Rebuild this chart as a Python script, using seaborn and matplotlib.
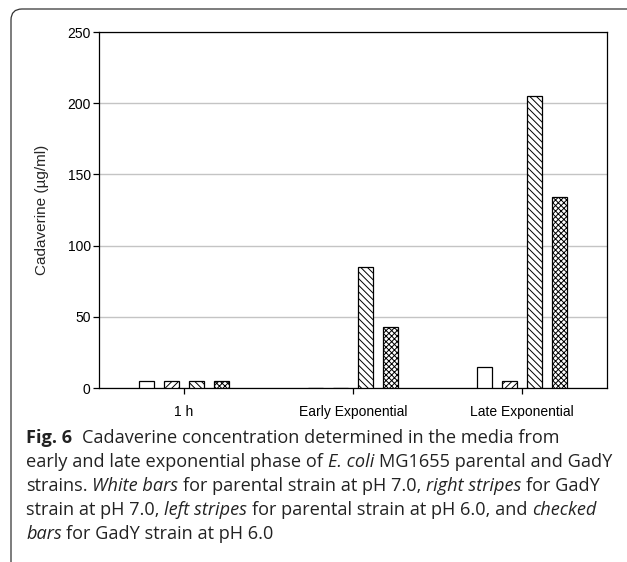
import matplotlib
matplotlib.use("Agg")
import matplotlib.pyplot as plt
import matplotlib.patches as mpatches
from matplotlib.transforms import IdentityTransform
import seaborn as sns
import pandas as pd

# ---------------- data ----------------
categories = ["1 h", "Early Exponential", "Late Exponential"]
series = ["Parental pH 7.0", "GadY pH 7.0", "Parental pH 6.0", "GadY pH 6.0"]
parental_ph7 = [5, 0, 15]
gady_ph7 = [5, 0, 5]
parental_ph6 = [5, 85, 205]
gady_ph6 = [5, 43, 134]
hatches = ["", "/////", "\\\\\\\\\\", "xxxxxx"]
yticks = [0, 50, 100, 150, 200, 250]
ylabel = "Cadaverine (µg/ml)"

caption_lines = [
    [("Fig. 6", "bold", "normal"), ("  Cadaverine concentration determined in the media from", "normal", "normal")],
    [("early and late exponential phase of ", "normal", "normal"), ("E. coli", "normal", "italic"),
     (" MG1655 parental and GadY", "normal", "normal")],
    [("strains. ", "normal", "normal"), ("White bars", "normal", "italic"),
     (" for parental strain at pH 7.0, ", "normal", "normal"), ("right stripes", "normal", "italic"),
     (" for GadY", "normal", "normal")],
    [("strain at pH 7.0, ", "normal", "normal"), ("left stripes", "normal", "italic"),
     (" for parental strain at pH 6.0, and ", "normal", "normal"), ("checked", "normal", "italic")],
    [("bars", "normal", "italic"), (" for GadY strain at pH 6.0", "normal", "normal")],
]

values = [parental_ph7, gady_ph7, parental_ph6, gady_ph6]
df = pd.DataFrame(
    [(c, s, v) for s, vals in zip(series, values) for c, v in zip(categories, vals)],
    columns=["phase", "strain", "value"],
)

# ---------------- figure ----------------
W, H = 627, 562
sns.set_style("white")
plt.rcParams["font.family"] = ["Liberation Sans", "DejaVu Sans"]
plt.rcParams["hatch.linewidth"] = 0.7
plt.rcParams["hatch.color"] = "black"

fig = plt.figure(figsize=(W / 100, H / 100), dpi=100)
ax = fig.add_axes([99 / W, 1 - 388 / H, (607 - 99) / W, (388 - 32) / H])

sns.barplot(
    data=df, x="phase", y="value", hue="strain",
    order=categories, hue_order=series,
    palette=["white"] * 4, edgecolor="black", linewidth=0.9,
    width=0.59, gap=0.4, errorbar=None, legend=False, ax=ax,
    zorder=3,
)
for cont, h in zip(ax.containers, hatches):
    for bar in cont:
        bar.set_hatch(h)
        bar.set_facecolor("white")
        bar.set_edgecolor("black")

ax.set_xlim(-0.5, len(categories) - 0.5)
ax.set_ylim(0, 250)
ax.set_yticks(yticks)
ax.set_yticklabels([str(t) for t in yticks], fontsize=10)
ax.set_xticks(range(len(categories)))
ax.set_xticklabels(categories, fontsize=10)
ax.set_xlabel("")
ax.set_ylabel(ylabel, fontsize=11, labelpad=13)
ax.tick_params(axis="y", direction="out", length=4, width=0.9, pad=2, left=True, colors="black")
ax.tick_params(axis="x", direction="out", length=4, width=0.9, pad=8, bottom=True, colors="black")
ax.yaxis.grid(True, color="#c4c4c4", linewidth=1.0, zorder=0)
ax.set_axisbelow(True)
for sp in ax.spines.values():
    sp.set_visible(True)
    sp.set_color("black")
    sp.set_linewidth(0.9)

# ---------------- caption ----------------
renderer = fig.canvas.get_renderer()
cap_family = ["Open Sans", "DejaVu Sans"]


def measure(txt, fs, weight="normal", style="normal"):
    t = fig.text(0, 0, txt, fontsize=fs, fontweight=weight, fontstyle=style, family=cap_family)
    w = t.get_window_extent(renderer).width
    t.remove()
    return w


def space_w(fs):
    return measure("a a", fs) - measure("aa", fs)


def line_width(segs, fs):
    sp = space_w(fs)
    total = 0
    for txt, wgt, sty in segs:
        s = txt.strip()
        total += (len(txt) - len(txt.lstrip())) * sp + (len(txt) - len(txt.rstrip())) * sp
        total += measure(s, fs, wgt, sty) if s else 0
    return total


base_fs = 12
target = 610 - 26
fs = base_fs * target / line_width(caption_lines[1], base_fs)
sp = space_w(fs)
baselines = [443, 467, 491, 515, 539]
for segs, yb in zip(caption_lines, baselines):
    x = 26
    for txt, wgt, sty in segs:
        lead = len(txt) - len(txt.lstrip())
        trail = len(txt) - len(txt.rstrip())
        s = txt.strip()
        x += lead * sp
        if s:
            t = fig.text(x / W, 1 - yb / H, s, fontsize=fs, fontweight=wgt, fontstyle=sty,
                         family=cap_family, va="baseline", ha="left", color="#222222")
            x += t.get_window_extent(renderer).width
        x += trail * sp

# rounded frame (top-left corner)
frame = mpatches.FancyBboxPatch(
    (11, -30), 700, H - 9 + 30, boxstyle="round,pad=0,rounding_size=11",
    transform=IdentityTransform(), fill=False, edgecolor="#333333", linewidth=0.9,
)
fig.patches.append(frame)

fig.savefig("out.png", dpi=100)
